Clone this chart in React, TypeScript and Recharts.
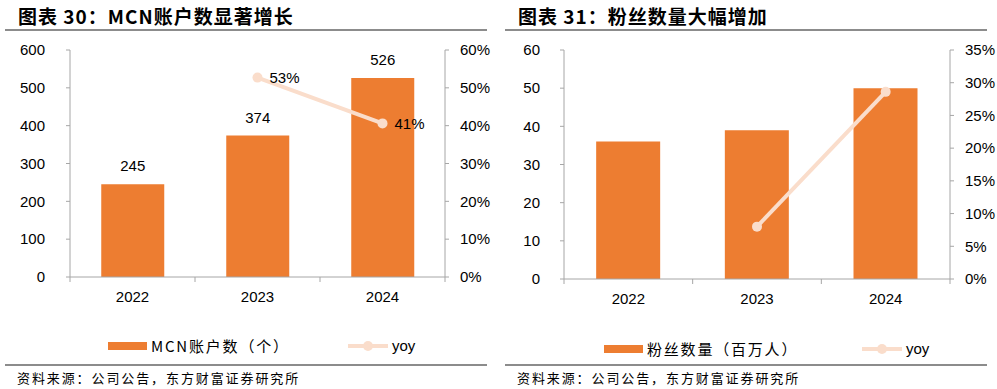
import { ComposedChart, Bar, Line, XAxis, YAxis, LabelList } from 'recharts';

const BAR_COLOR = '#ED7D31';
const LINE_COLOR = '#FADDCB';
const AXIS_COLOR = '#A6A6A6';
const NUM_FONT = '"Liberation Sans", Arial, sans-serif';
const CJK_FONT = '"Noto Sans CJK SC", "Noto Sans", sans-serif';

// chart 30
const years = ['2022', '2023', '2024'];
const mcnAccounts = [245, 374, 526];
const mcnYoy = [null, 52.7, 40.6];
const mcnLeftTicks = [0, 100, 200, 300, 400, 500, 600];
const mcnRightTicks = [0, 10, 20, 30, 40, 50, 60];

// chart 31
const fans = [36, 39, 50];
const fansYoy = [null, 8.0, 28.6];
const fansLeftTicks = [0, 10, 20, 30, 40, 50, 60];
const fansRightTicks = [0, 5, 10, 15, 20, 25, 30, 35];

const titles = ['图表 30：MCN账户数显著增长', '图表 31：粉丝数量大幅增加'];
const barNames = ['MCN账户数（个）', '粉丝数量（百万人）'];
const lineName = 'yoy';
const source = '资料来源：公司公告，东方财富证券研究所';

const mcnData = years.map((y, i) => ({ year: y, value: mcnAccounts[i], yoy: mcnYoy[i] }));
const fansData = years.map((y, i) => ({ year: y, value: fans[i], yoy: fansYoy[i] }));

// Excel style category axis: tick marks sit between categories
const CategoryTick = (props: any) => {
  const { x, y, payload, index } = props;
  const half = payload.offset || 62;
  const axisY = y - 5;
  return (
    <g>
      {index === 0 && (
        <line x1={x - half} x2={x - half} y1={axisY} y2={axisY + 5} stroke={AXIS_COLOR} />
      )}
      <line x1={x + half} x2={x + half} y1={axisY} y2={axisY + 5} stroke={AXIS_COLOR} />
      <text x={x} y={axisY + 25} textAnchor="middle" fontSize={15} fontFamily={NUM_FONT} fill="#000">
        {payload.value}
      </text>
    </g>
  );
};

const tickStyle = { fontSize: 15, fontFamily: NUM_FONT, fill: '#000' };

const Header = ({ title, left }: { title: string; left: number }) => (
  <>
    <div
      style={{
        position: 'absolute',
        left: left + 18,
        top: 2,
        fontFamily: CJK_FONT,
        fontWeight: 700,
        fontSize: 19,
        letterSpacing: 1,
        whiteSpace: 'nowrap',
        color: '#000',
      }}
    >
      {title}
    </div>
    <div style={{ position: 'absolute', left: left + 5, top: 29, width: 482, height: 1.5, background: '#8C8C8C' }} />
  </>
);

const Footer = ({ idx, left, legendTop, barX, lineX }: { idx: number; left: number; legendTop: number; barX: number; lineX: number }) => (
  <>
    <div style={{ position: 'absolute', left: left + 5, top: 364, width: 482, height: 1.5, background: '#8C8C8C' }} />
    <div
      style={{
        position: 'absolute',
        left: left + 17,
        top: 368,
        fontFamily: CJK_FONT,
        fontSize: 13,
        letterSpacing: 1.9,
        whiteSpace: 'nowrap',
        color: '#000',
      }}
    >
      {source}
    </div>
    <div style={{ position: 'absolute', left: left + barX, top: legendTop - 4, width: 39, height: 8, background: BAR_COLOR }} />
    <div
      style={{
        position: 'absolute',
        left: left + barX + 43,
        top: legendTop - 11,
        fontFamily: CJK_FONT,
        fontSize: 15,
        letterSpacing: 1.8,
        whiteSpace: 'nowrap',
        color: '#000',
        lineHeight: '22px',
      }}
    >
      {barNames[idx]}
    </div>
    <svg style={{ position: 'absolute', left: left + lineX, top: legendTop - 7 }} width={42} height={14}>
      <line x1={1} x2={41} y1={7} y2={7} stroke={LINE_COLOR} strokeWidth={4} />
      <circle cx={21} cy={7} r={5} fill={LINE_COLOR} />
    </svg>
    <div
      style={{
        position: 'absolute',
        left: left + lineX + 45,
        top: legendTop - 11,
        fontFamily: NUM_FONT,
        fontSize: 15,
        whiteSpace: 'nowrap',
        color: '#000',
        lineHeight: '22px',
      }}
    >
      {lineName}
    </div>
  </>
);

export default function App() {
  return (
    <div style={{ position: 'absolute', left: 0, top: 0, width: 997, height: 389, background: '#fff', overflow: 'hidden' }}>
      <Header title={titles[0]} left={0} />
      <Header title={titles[1]} left={500} />

      <div style={{ position: 'absolute', left: 0, top: 0 }}>
        <ComposedChart width={497} height={310} data={mcnData} margin={{ top: 50, right: 0, bottom: 3, left: 10 }} barCategoryGap="25%">
          <XAxis dataKey="year" stroke={AXIS_COLOR} tickLine={false} tickSize={5} tickMargin={0} height={30} tick={<CategoryTick />} />
          <YAxis
            yAxisId="left"
            width={60}
            domain={[0, 600]}
            ticks={mcnLeftTicks}
            stroke={AXIS_COLOR}
            tickSize={4}
            tickMargin={21}
            tick={tickStyle}
          />
          <YAxis
            yAxisId="right"
            orientation="right"
            width={52}
            domain={[0, 60]}
            ticks={mcnRightTicks}
            stroke={AXIS_COLOR}
            tickSize={4}
            tickMargin={11}
            tick={tickStyle}
            tickFormatter={(v: number) => `${v}%`}
          />
          <Bar yAxisId="left" dataKey="value" name={barNames[0]} fill={BAR_COLOR} isAnimationActive={false}>
            <LabelList dataKey="value" position="top" offset={13} style={{ fontSize: 15, fontFamily: NUM_FONT, fill: '#000' }} />
          </Bar>
          <Line
            yAxisId="right"
            dataKey="yoy"
            name={lineName}
            stroke={LINE_COLOR}
            strokeWidth={4}
            dot={{ r: 5, fill: LINE_COLOR, stroke: LINE_COLOR, strokeWidth: 0 }}
            isAnimationActive={false}
          >
            <LabelList
              dataKey="yoy"
              position="right"
              offset={12}
              formatter={(v: any) => (v == null ? '' : `${Math.round(v)}%`)}
              style={{ fontSize: 15, fontFamily: NUM_FONT, fill: '#000' }}
            />
          </Line>
        </ComposedChart>
      </div>

      <div style={{ position: 'absolute', left: 500, top: 0 }}>
        <ComposedChart width={497} height={312} data={fansData} margin={{ top: 50, right: 0, bottom: 3, left: 10 }} barCategoryGap="25%">
          <XAxis dataKey="year" stroke={AXIS_COLOR} tickLine={false} tickSize={5} tickMargin={0} height={30} tick={<CategoryTick />} />
          <YAxis
            yAxisId="left"
            width={54}
            domain={[0, 60]}
            ticks={fansLeftTicks}
            stroke={AXIS_COLOR}
            tickSize={4}
            tickMargin={20}
            tick={tickStyle}
          />
          <YAxis
            yAxisId="right"
            orientation="right"
            width={47}
            domain={[0, 35]}
            ticks={fansRightTicks}
            stroke={AXIS_COLOR}
            tickSize={4}
            tickMargin={11}
            tick={tickStyle}
            tickFormatter={(v: number) => `${v}%`}
          />
          <Bar yAxisId="left" dataKey="value" name={barNames[1]} fill={BAR_COLOR} isAnimationActive={false} />
          <Line
            yAxisId="right"
            dataKey="yoy"
            name={lineName}
            stroke={LINE_COLOR}
            strokeWidth={4}
            dot={{ r: 5, fill: LINE_COLOR, stroke: LINE_COLOR, strokeWidth: 0 }}
            isAnimationActive={false}
          />
        </ComposedChart>
      </div>

      <Footer idx={0} left={0} legendTop={346} barX={108} lineX={347} />
      <Footer idx={1} left={500} legendTop={349} barX={104} lineX={361} />
    </div>
  );
}
